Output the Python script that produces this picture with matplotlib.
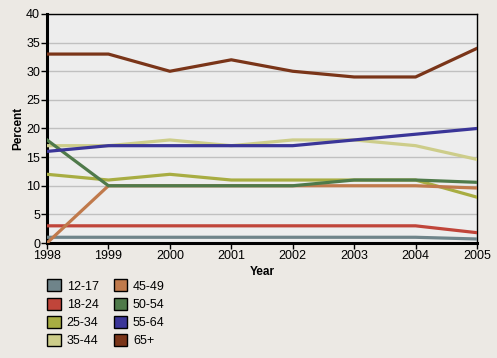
import matplotlib.pyplot as plt
from matplotlib.patches import Patch

plt.rcParams['font.family'] = ['Liberation Sans', 'DejaVu Sans']

years = [1998, 1999, 2000, 2001, 2002, 2003, 2004, 2005]
groups = ['12-17', '18-24', '25-34', '35-44', '45-49', '50-54', '55-64', '65+']
colors = ['#6F848A', '#C0453A', '#A8AD42', '#CDCD8A', '#C07A4C', '#4F7A4A', '#3A3598', '#7A3519']

age_12_17 = [1, 1, 1, 1, 1, 1, 1, 0.7]
age_18_24 = [3, 3, 3, 3, 3, 3, 3, 1.8]
age_25_34 = [12, 11, 12, 11, 11, 11, 11, 8]
age_35_44 = [17, 17, 18, 17, 18, 18, 17, 14.6]
age_45_49 = [0, 10, 10, 10, 10, 10, 10, 9.6]
age_50_54 = [18, 10, 10, 10, 10, 11, 11, 10.6]
age_55_64 = [16, 17, 17, 17, 17, 18, 19, 20]
age_65 = [33, 33, 30, 32, 30, 29, 29, 34]

series = [age_12_17, age_18_24, age_25_34, age_35_44,
          age_45_49, age_50_54, age_55_64, age_65]

fig = plt.figure(figsize=(4.97, 3.58), dpi=100, facecolor='#ECE9E4')
ax = fig.add_axes([47 / 497, 115 / 358, 430 / 497, 229 / 358])
ax.set_facecolor('#EDEDED')

for vals, c in zip(series, colors):
    ax.plot(years, vals, color=c, lw=2.3, solid_joinstyle='round', zorder=3)

ax.set_xlim(1998, 2005)
ax.set_ylim(0, 40)
ax.set_xticks(years)
ax.set_yticks(range(0, 41, 5))
ax.yaxis.grid(True, color='#C0C0C0', lw=1)
ax.set_axisbelow(True)

for side in ['top', 'right']:
    ax.spines[side].set_linewidth(1)
for side in ['left', 'bottom']:
    ax.spines[side].set_linewidth(2.2)
ax.tick_params(labelsize=9, length=4, width=1, pad=1)

ax.set_xlabel('Year', fontsize=8.5, fontweight='bold', labelpad=3)
ax.set_ylabel('Percent', fontsize=8.5, fontweight='bold')
ax.yaxis.set_label_coords(-23 / 430, 0.5)

handles = [Patch(facecolor=c, edgecolor='black', lw=1) for c in colors]
fig.legend(handles, groups, ncol=2, loc='upper left',
           bbox_to_anchor=(36 / 497, 90 / 358), frameon=False,
           fontsize=9, handlelength=1.1, handleheight=1.1,
           columnspacing=1.2, labelspacing=0.4, handletextpad=0.45)

fig.savefig('out.png', dpi=100, facecolor=fig.get_facecolor())
